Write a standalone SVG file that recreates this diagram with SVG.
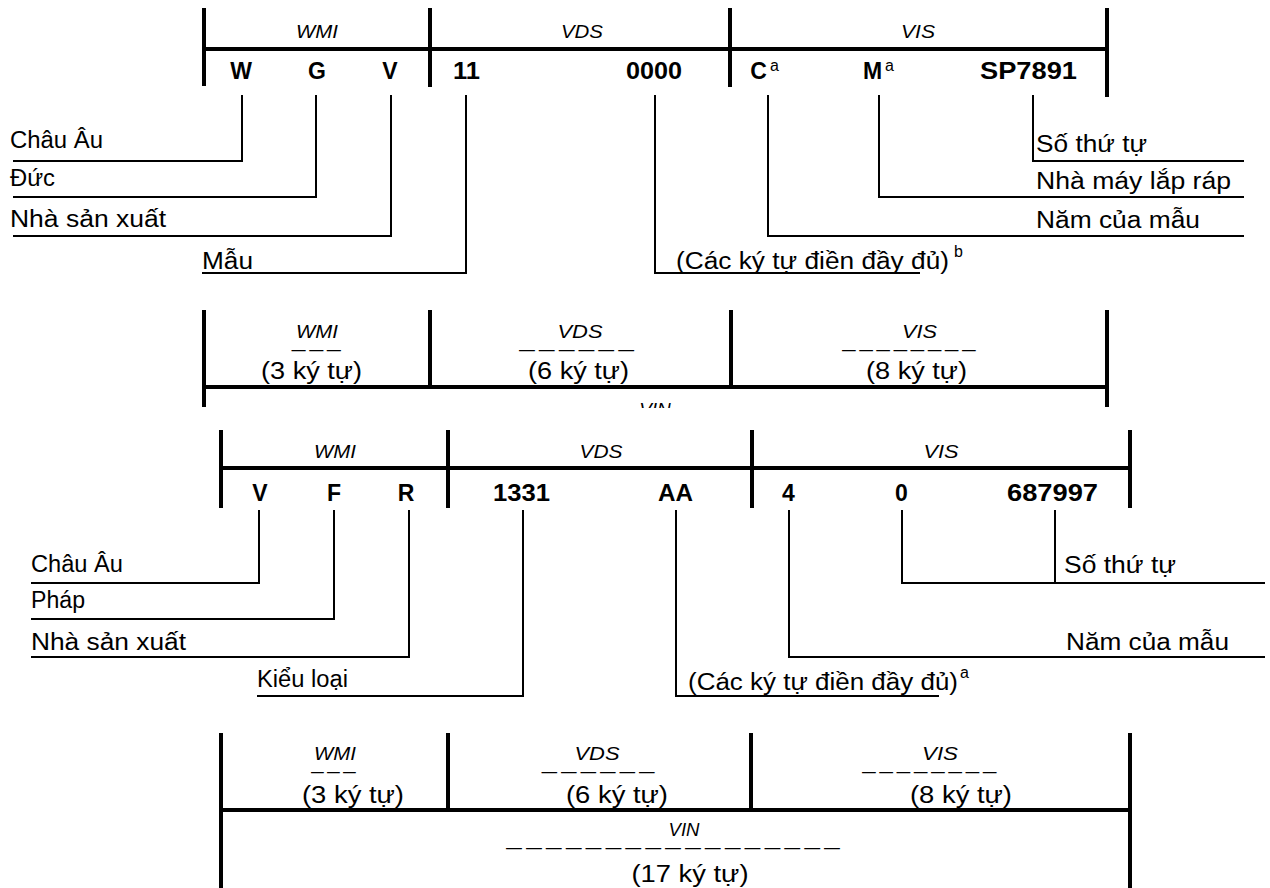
<svg xmlns="http://www.w3.org/2000/svg" width="1270" height="888" viewBox="0 0 1270 888">
<defs>
<style>
.bar{stroke:#000;stroke-width:4;fill:none;stroke-linecap:butt}
.lead{stroke:#000;stroke-width:2;fill:none}
text{font-family:"Liberation Sans",Arial,sans-serif;fill:#000}
.seg{font-size:19px;font-style:italic;text-anchor:middle}
.code{font-size:23px;font-weight:bold;text-anchor:middle}
.lbl{font-size:23px}
.cnt{font-size:23px;text-anchor:middle}
.dash{font-size:16px;letter-spacing:4px;text-anchor:middle}
.sup{font-size:16px}
</style>
<clipPath id="vinclip"><rect x="560" y="390" width="200" height="18"/></clipPath>
</defs>
<rect width="1270" height="888" fill="#fff"/>

<g id="example1-frame">
<path class="bar" d="M204 8V86M430 8V87M730 8V87M1107 8V97M204 49H1107"/>
<text class="seg" x="317" y="38" textLength="42" lengthAdjust="spacingAndGlyphs">WMI</text>
<text class="seg" x="582" y="38" textLength="42" lengthAdjust="spacingAndGlyphs">VDS</text>
<text class="seg" x="918" y="38" textLength="34" lengthAdjust="spacingAndGlyphs">VIS</text>
<text class="code" x="241" y="79">W</text>
<text class="code" x="317" y="79">G</text>
<text class="code" x="390" y="79">V</text>
<text class="code" x="466.5" y="79" textLength="27" lengthAdjust="spacingAndGlyphs">11</text>
<text class="code" x="654" y="79" textLength="56" lengthAdjust="spacingAndGlyphs">0000</text>
<text class="code" x="758.5" y="79">C</text>
<text class="sup" x="770" y="71">a</text>
<text class="code" x="872.5" y="79">M</text>
<text class="sup" x="885" y="71">a</text>
<text class="code" x="1028.5" y="79" textLength="97" lengthAdjust="spacingAndGlyphs">SP7891</text>
</g>

<g id="example1-labels">
<text class="lbl" x="10" y="148" textLength="93" lengthAdjust="spacingAndGlyphs">Châu Âu</text>
<text class="lbl" x="10" y="186" textLength="45" lengthAdjust="spacingAndGlyphs">Đức</text>
<text class="lbl" x="10" y="227" textLength="156" lengthAdjust="spacingAndGlyphs">Nhà sản xuất</text>
<text class="lbl" x="202" y="269" textLength="51" lengthAdjust="spacingAndGlyphs">Mẫu</text>
<text class="lbl" x="676" y="269" textLength="273" lengthAdjust="spacingAndGlyphs">(Các ký tự điền đầy đủ)</text>
<text class="sup" x="954" y="257" font-size="13">b</text>
<text class="lbl" x="1036" y="152" textLength="111" lengthAdjust="spacingAndGlyphs">Số thứ tự</text>
<text class="lbl" x="1036" y="189" textLength="195" lengthAdjust="spacingAndGlyphs">Nhà máy lắp ráp</text>
<text class="lbl" x="1036" y="228" textLength="164" lengthAdjust="spacingAndGlyphs">Năm của mẫu</text>
</g>

<g id="summary1">
<path class="bar" d="M204 310V407M430 310V387M731 310V387M1107 310V407M204 387H1107"/>
<text class="seg" x="317" y="338" textLength="42" lengthAdjust="spacingAndGlyphs">WMI</text>
<text class="dash" x="318" y="355" textLength="53" lengthAdjust="spacingAndGlyphs">———</text>
<text class="cnt" x="311.5" y="379" textLength="101" lengthAdjust="spacingAndGlyphs">(3 ký tự)</text>
<text class="seg" x="580" y="338" textLength="45" lengthAdjust="spacingAndGlyphs">VDS</text>
<text class="dash" x="578.5" y="355" textLength="119" lengthAdjust="spacingAndGlyphs">——————</text>
<text class="cnt" x="578.5" y="379" textLength="101" lengthAdjust="spacingAndGlyphs">(6 ký tự)</text>
<text class="seg" x="919.5" y="338" textLength="35" lengthAdjust="spacingAndGlyphs">VIS</text>
<text class="dash" x="910.5" y="355" textLength="137" lengthAdjust="spacingAndGlyphs">————————</text>
<text class="cnt" x="916.5" y="379" textLength="101" lengthAdjust="spacingAndGlyphs">(8 ký tự)</text>
<text class="seg" x="655" y="416" clip-path="url(#vinclip)">VIN</text>
</g>

<g id="example2-frame">
<path class="bar" d="M221 430V508M448 430V508M752 430V508M1130 430V508M221 468H1130"/>
<text class="seg" x="335" y="458" textLength="42" lengthAdjust="spacingAndGlyphs">WMI</text>
<text class="seg" x="601" y="458" textLength="43" lengthAdjust="spacingAndGlyphs">VDS</text>
<text class="seg" x="941" y="458" textLength="35" lengthAdjust="spacingAndGlyphs">VIS</text>
<text class="code" x="260" y="501">V</text>
<text class="code" x="334" y="501">F</text>
<text class="code" x="406" y="501">R</text>
<text class="code" x="521.5" y="501" textLength="57" lengthAdjust="spacingAndGlyphs">1331</text>
<text class="code" x="675.5" y="501" textLength="35" lengthAdjust="spacingAndGlyphs">AA</text>
<text class="code" x="788.5" y="501">4</text>
<text class="code" x="901.5" y="501">0</text>
<text class="code" x="1052.5" y="501" textLength="91" lengthAdjust="spacingAndGlyphs">687997</text>
</g>

<g id="example2-labels">
<text class="lbl" x="31" y="572" textLength="92" lengthAdjust="spacingAndGlyphs">Châu Âu</text>
<text class="lbl" x="31" y="608" textLength="54" lengthAdjust="spacingAndGlyphs">Pháp</text>
<text class="lbl" x="31" y="650" textLength="155" lengthAdjust="spacingAndGlyphs">Nhà sản xuất</text>
<text class="lbl" x="257" y="687" textLength="91" lengthAdjust="spacingAndGlyphs">Kiểu loại</text>
<text class="lbl" x="688" y="690" textLength="270" lengthAdjust="spacingAndGlyphs">(Các ký tự điền đầy đủ)</text>
<text class="sup" x="960" y="678" font-size="13">a</text>
<text class="lbl" x="1066" y="650" textLength="163" lengthAdjust="spacingAndGlyphs">Năm của mẫu</text>
<text class="lbl" x="1064" y="573" textLength="112" lengthAdjust="spacingAndGlyphs">Số thứ tự</text>
</g>

<g id="summary2">
<path class="bar" d="M221 733V888M448 733V810M751 733V810M1130 733V888M221 810H1130"/>
<text class="seg" x="335" y="760" textLength="42" lengthAdjust="spacingAndGlyphs">WMI</text>
<text class="dash" x="335" y="777" textLength="48" lengthAdjust="spacingAndGlyphs">———</text>
<text class="cnt" x="353" y="803" textLength="102" lengthAdjust="spacingAndGlyphs">(3 ký tự)</text>
<text class="seg" x="597" y="760" textLength="45" lengthAdjust="spacingAndGlyphs">VDS</text>
<text class="dash" x="600" y="777" textLength="117" lengthAdjust="spacingAndGlyphs">——————</text>
<text class="cnt" x="617" y="803" textLength="102" lengthAdjust="spacingAndGlyphs">(6 ký tự)</text>
<text class="seg" x="940" y="760" textLength="36" lengthAdjust="spacingAndGlyphs">VIS</text>
<text class="dash" x="931" y="777" textLength="138" lengthAdjust="spacingAndGlyphs">————————</text>
<text class="cnt" x="961" y="803" textLength="102" lengthAdjust="spacingAndGlyphs">(8 ký tự)</text>
<text class="seg" x="684" y="836" textLength="31" lengthAdjust="spacingAndGlyphs">VIN</text>
<text class="dash" x="675" y="853" font-size="14" textLength="338" lengthAdjust="spacingAndGlyphs">—————————————————</text>
<text class="cnt" x="690" y="882" textLength="117" lengthAdjust="spacingAndGlyphs">(17 ký tự)</text>
</g>

<g id="connectors">
<path class="lead" d="M242 95V161H13"/>
<path class="lead" d="M316 95V197H13"/>
<path class="lead" d="M391 95V236H13"/>
<path class="lead" d="M466 95V273H202"/>
<path class="lead" d="M655 95V273H920"/>
<path class="lead" d="M768 95V236H1244"/>
<path class="lead" d="M879 95V197H1244"/>
<path class="lead" d="M1033 95V161H1244"/>
<path class="lead" d="M259 510V583H31"/>
<path class="lead" d="M334 510V619H31"/>
<path class="lead" d="M409 510V657H31"/>
<path class="lead" d="M523 510V696H257"/>
<path class="lead" d="M676 510V696H939"/>
<path class="lead" d="M789 510V657H1265"/>
<path class="lead" d="M902 510V583H1265"/>
<path class="lead" d="M1055 510V583"/>
</g>
</svg>
